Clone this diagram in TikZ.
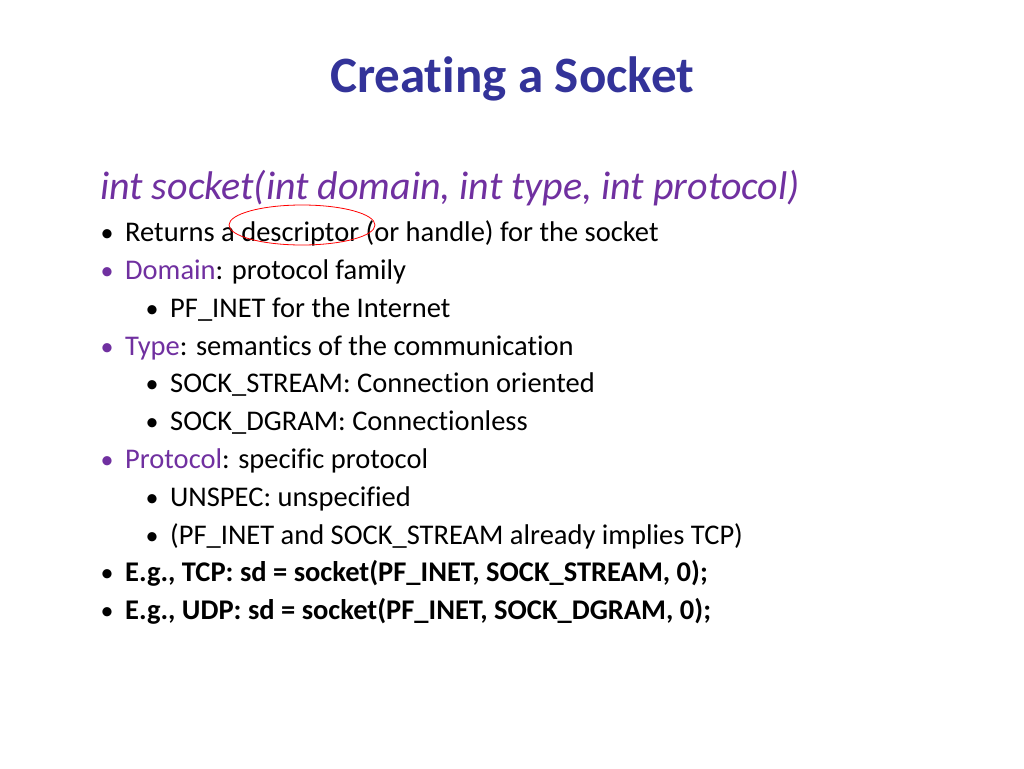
\documentclass[tikz,border=0pt]{standalone}
\usepackage{fontspec}
\usetikzlibrary{shapes.geometric}
\setmainfont[Ligatures={NoCommon}]{Carlito}
\definecolor{titleblue}{HTML}{333399}
\definecolor{purp}{HTML}{7030A0}
\begin{document}
\begin{tikzpicture}[x=1pt,y=-1pt,
  txt/.style={anchor=base west,inner sep=0pt,font=\fontsize{28.5}{32}\selectfont},
  bul/.style={anchor=base,inner sep=0pt,font=\fontsize{26}{30}\selectfont}]
\useasboundingbox[fill=white] (0,0) rectangle (1024,768);
\node[inner sep=0pt,anchor=base,text=titleblue,font=\fontsize{51}{58}\bfseries] (title) at (512,92) {Creating a Socket};
\node[anchor=base west,inner sep=0pt,text=purp,font=\fontsize{40}{46}\itshape] (sig) at (100,199) {int socket(int domain, int type, int protocol)};
\foreach \n/\x/\y/\c/\t in {
 a/125/241/black/{Returns a descriptor (or handle) for the socket},
 b/125/279/purp/{\textcolor{purp}{Domain}\textcolor{black}{: protocol family}},
 c/170/317/black/{PF\_INET for the Internet},
 d/125/355/purp/{\textcolor{purp}{Type}\textcolor{black}{: semantics of the communication}},
 e/170/392/black/{SOCK\_STREAM: Connection oriented},
 f/170/430/black/{SOCK\_DGRAM: Connectionless},
 g/125/468/purp/{\textcolor{purp}{Protocol}\textcolor{black}{: specific protocol}},
 h/170/506/black/{UNSPEC: unspecified},
 i/170/544/black/{(PF\_INET and SOCK\_STREAM already implies TCP)},
 j/125/581/black/{\textbf{E.g., TCP: sd = socket(PF\_INET, SOCK\_STREAM, 0);}},
 k/125/619/black/{\textbf{E.g., UDP: sd = socket(PF\_INET, SOCK\_DGRAM, 0);}}}
{
 \node[txt] (\n) at (\x,\y) {\t};
 \node[bul,text=\c] (b\n) at ({\x-18},\y) {•};
}
\node[draw=red,ellipse,minimum width=146,minimum height=40,inner sep=0pt,line width=0.8pt] (circ) at (302,225) {};
\end{tikzpicture}
\end{document}
